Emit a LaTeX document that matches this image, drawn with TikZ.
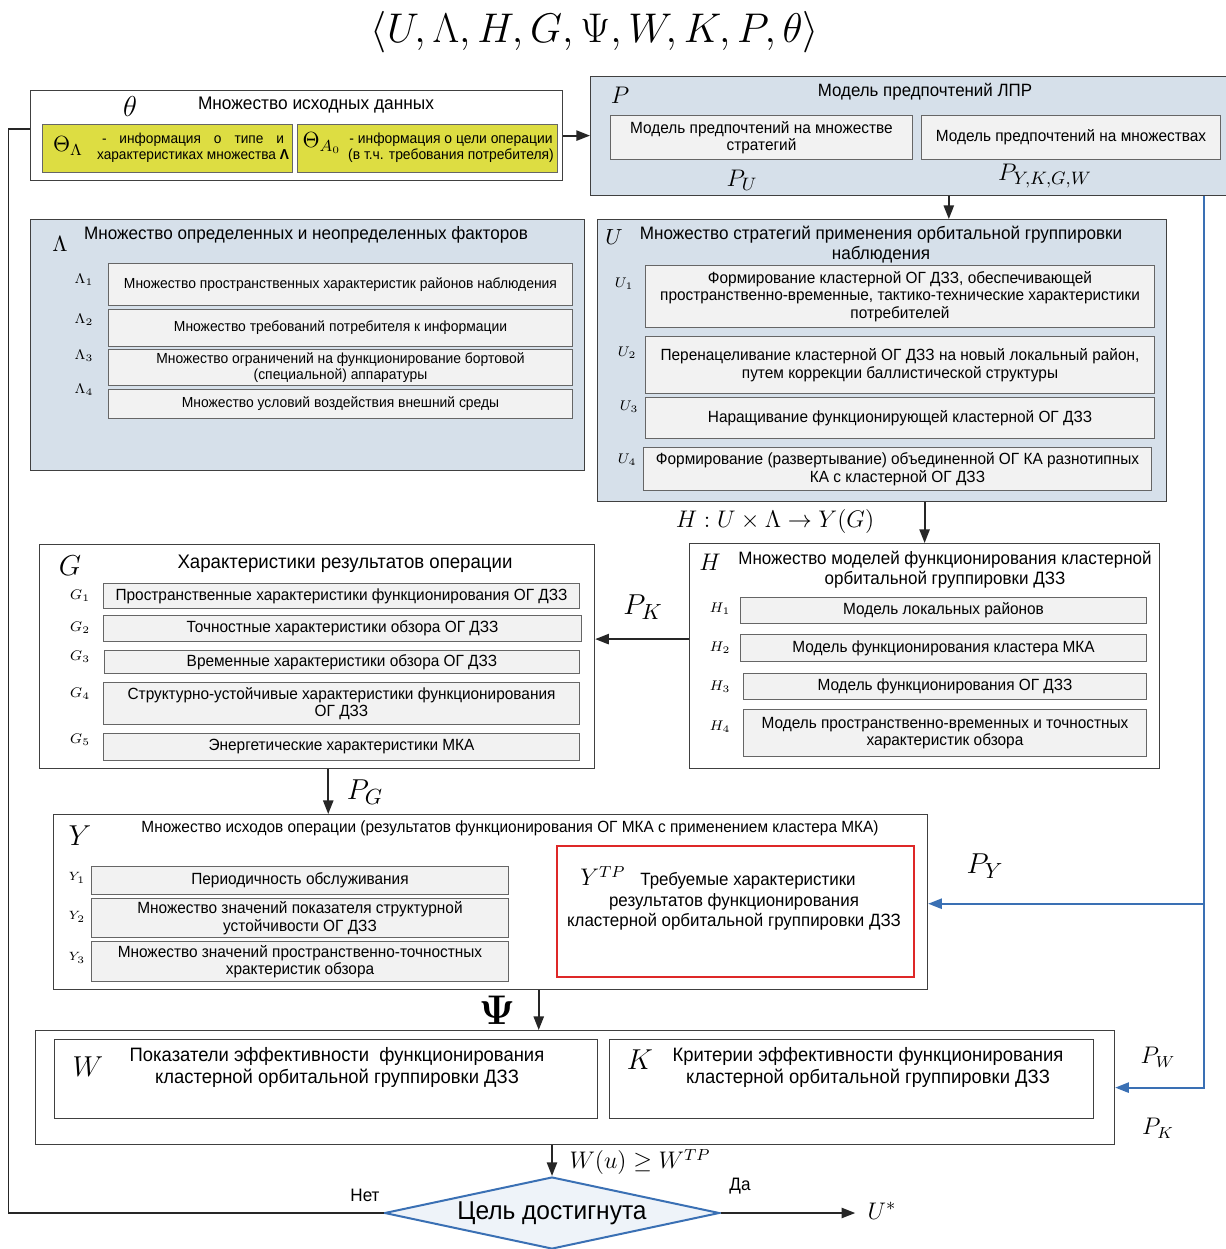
\documentclass[tikz,border=0pt]{standalone}
\usepackage[no-math]{fontspec}
\setmainfont{Liberation Sans}[FakeStretch=0.95]
\usepackage{tikz}
\usetikzlibrary{positioning,arrows.meta,calc,shapes.geometric}
\definecolor{setfill}{RGB}{214,224,234}
\definecolor{itemfill}{RGB}{242,242,242}
\definecolor{thetafill}{RGB}{221,221,66}
\definecolor{ytpred}{RGB}{222,40,40}
\definecolor{prefblue}{RGB}{58,112,180}
\definecolor{goalfill}{RGB}{238,243,249}
\tikzset{
  wh/.style 2 args={minimum width=#1*0.5pt, minimum height=#2*0.5pt},
  outer/.style={draw=black!75, line width=0.6pt, fill=white, anchor=north west, inner sep=0pt},
  setbox/.style={outer, fill=setfill},
  itembox/.style={draw=black!60, line width=0.5pt, fill=itemfill, anchor=north west, align=center,
                  inner sep=1pt, font=\fontsize{7.3}{8}\selectfont},
  wideitem/.style={itembox, font=\fontsize{8.1}{8.8}\selectfont},
  thetabox/.style={itembox, fill=thetafill},
  thetatxt/.style={align=center, inner sep=0pt, font=\fontsize{7.3}{8}\selectfont},
  ttl/.style={font=\fontsize{9}{10}\selectfont, align=center, inner sep=0pt},
  sym/.style={font=\fontsize{13}{14}\selectfont, inner sep=0pt},
  sub/.style={font=\fontsize{7.5}{8}\selectfont, inner sep=0pt},
  lbl/.style={font=\fontsize{13}{14}\selectfont, inner sep=0pt},
  flow/.style={-{Triangle[length=2.4mm,width=1.8mm]}, line width=0.9pt, black!85},
  back/.style={line width=0.9pt, black!85},
  prefarrow/.style={-{Triangle[length=2.4mm,width=1.8mm]}, line width=0.9pt, prefblue}
}
\begin{document}
\begin{tikzpicture}[x=0.5pt,y=-0.5pt]
\useasboundingbox (0,0) rectangle (1226,1249);
\node[font=\fontsize{22}{24}\selectfont] (tuple) at (595,32) {$\left\langle U,\Lambda,H,G,\Psi,W,K,P,\theta\right\rangle$};

% source data
\node[outer, wh={532}{90}] (theta) at (30,90) {};
\node[sym, font=\fontsize{14}{15}\selectfont] (thetaS) at (130,106) {$\theta$};
\node[ttl, font=\fontsize{9.1}{10}\selectfont] (thetaT) at (316,105) {Множество исходных данных};
\node[thetabox, wh={250}{48}] (thL) at (42,124) {};
\node[thetabox, wh={260}{48}] (thA) at (297,124) {};
\node[sym, font=\fontsize{11}{12}\selectfont] (thLS) at (68,146) {$\Theta_\Lambda$};
\node[thetatxt, font=\fontsize{7.2}{8}\selectfont] (thLT) at (193,148) {\makebox[91pt][s]{- информация о типе и}\\характеристиках множества \textbf{Λ}};
\node[sym, font=\fontsize{11}{12}\selectfont] (thAS) at (322,143) {$\Theta_{A_0}$};
\node[thetatxt] (thAT) at (451,148) {- информация о цели операции\\(в т.ч. требования потребителя)};

% decision maker preferences
\node[setbox, wh={640}{119}] (lpr) at (590,76) {};
\node[sym] (lprS) at (620,95) {$P$};
\node[ttl, font=\fontsize{8.9}{10}\selectfont] (lprT) at (925,92) {Модель предпочтений ЛПР};
\node[wideitem, wh={302}{44}] (lprU) at (610,115) {Модель предпочтений на множестве\\стратегий};
\node[wideitem, wh={299}{44}] (lprY) at (921,115) {Модель предпочтений на множествах};
\node[lbl] (lprUl) at (742,180) {$P_U$};
\node[lbl] (lprYl) at (1045,176) {$P_{Y,K,G,W}$};

% factors
\node[setbox, wh={554}{251}] (lam) at (30,219) {};
\node[sym, font=\fontsize{11}{12}\selectfont] (lamS) at (60,244) {$\Lambda$};
\node[ttl] (lamT) at (306,235) {Множество определенных и неопределенных факторов};
\node[itembox, wh={464}{42}] (lam1) at (108,263) {Множество пространственных характеристик районов наблюдения};
\node[itembox, wh={464}{37}] (lam2) at (108,309) {Множество требований потребителя к информации};
\node[itembox, wh={464}{36}] (lam3) at (108,349) {Множество ограничений на функционирование бортовой\\(специальной) аппаратуры};
\node[itembox, wh={464}{29}] (lam4) at (108,389) {Множество условий воздействия внешний среды};
\foreach \i/\y in {1/280,2/320,3/356,4/390}
  \node[sub] (lamS\i) at (84,\y) {$\Lambda_\i$};

% strategies
\node[setbox, wh={569}{282}] (strat) at (597,219) {};
\node[sym, font=\fontsize{11}{12}\selectfont] (stratS) at (614,237) {$U$};
\node[ttl] (stratT) at (881,245) {Множество стратегий применения орбитальной группировки\\наблюдения};
\node[wideitem, wh={509}{62}] (u1) at (645,265) {Формирование кластерной ОГ ДЗЗ, обеспечивающей\\пространственно-временные, тактико-технические характеристики\\потребителей};
\node[wideitem, wh={509}{57}] (u2) at (645,336) {Перенацеливание кластерной ОГ ДЗЗ на новый локальный район,\\путем коррекции баллистической структуры};
\node[wideitem, wh={509}{41}] (u3) at (645,397) {Наращивание функционирующей кластерной ОГ ДЗЗ};
\node[wideitem, wh={508}{43}] (u4) at (643,447) {Формирование (развертывание) объединенной ОГ КА разнотипных\\КА с кластерной ОГ ДЗЗ};
\foreach \i/\x/\y in {1/624/284,2/627/353,3/629/407,4/627/460}
  \node[sub] (uS\i) at (\x,\y) {$U_\i$};

% models
\node[outer, wh={470}{225}] (model) at (689,543) {};
\node[sym] (modelS) at (710,562) {$H$};
\node[ttl, font=\fontsize{8.95}{10.2}\selectfont] (modelT) at (945,570) {Множество моделей функционирования кластерной\\орбитальной группировки ДЗЗ};
\node[wideitem, wh={406}{26}] (h1) at (740,597) {Модель локальных районов};
\node[wideitem, wh={406}{27}] (h2) at (740,634) {Модель функционирования кластера МКА};
\node[wideitem, wh={403}{26}] (h3) at (743,673) {Модель функционирования ОГ ДЗЗ};
\node[wideitem, wh={403}{47}] (h4) at (743,709) {Модель пространственно-временных и точностных\\характеристик обзора};
\foreach \i/\y in {1/609,2/648,3/687,4/727}
  \node[sub] (hS\i) at (720,\y) {$H_\i$};
\node[font=\fontsize{13}{14}\selectfont] (hmap) at (775,521) {$H:U\times\Lambda\rightarrow Y(G)$};

% operation results
\node[outer, wh={555}{224}] (res) at (39,544) {};
\node[sym, font=\fontsize{15}{16}\selectfont] (resS) at (70,566) {$G$};
\node[ttl, font=\fontsize{9.8}{10.5}\selectfont] (resT) at (345,564) {Характеристики результатов операции};
\node[wideitem, wh={476}{25}] (g1) at (103,583) {Пространственные характеристики функционирования ОГ ДЗЗ};
\node[wideitem, wh={478}{26}] (g2) at (103,615) {Точностные характеристики обзора ОГ ДЗЗ};
\node[wideitem, wh={475}{23}] (g3) at (104,650) {Временные характеристики обзора ОГ ДЗЗ};
\node[wideitem, wh={476}{42}] (g4) at (103,682) {Структурно-устойчивые характеристики функционирования\\ОГ ДЗЗ};
\node[wideitem, wh={476}{27}] (g5) at (103,733) {Энергетические характеристики МКА};
\foreach \i/\y in {1/596,2/628,3/657,4/694,5/740}
  \node[sub] (gS\i) at (80,\y) {$G_\i$};

% outcomes
\node[outer, wh={874}{175}] (out) at (53,814) {};
\node[sym, font=\fontsize{15}{16}\selectfont] (outS) at (80,836) {$Y$};
\node[ttl, font=\fontsize{8.1}{9}\selectfont] (outT) at (510,828) {Множество исходов операции (результатов функционирования ОГ МКА с применением кластера МКА)};
\node[wideitem, wh={417}{28}] (y1) at (91,866) {Периодичность обслуживания};
\node[wideitem, wh={417}{39}] (y2) at (91,898) {Множество значений показателя структурной\\устойчивости ОГ ДЗЗ};
\node[wideitem, wh={417}{40}] (y3) at (91,941) {Множество значений пространственно-точностных\\храктеристик обзора};
\foreach \i/\y in {1/878,2/917,3/958}
  \node[sub, font=\fontsize{6.5}{7}\selectfont] (yS\i) at (77,\y) {$Y_\i$};
\node[draw=ytpred, line width=1.2pt, fill=white, anchor=north west, wh={357}{131}] (ytp) at (556,845) {};
\node[sym, font=\fontsize{12}{13}\selectfont] (ytpS) at (603,876) {$Y^{TP}$};
\node[ttl, font=\fontsize{8.9}{10}\selectfont] (ytpT1) at (748,881) {Требуемые характеристики};
\node[ttl, font=\fontsize{8.9}{10}\selectfont] (ytpT2) at (734,912) {результатов функционирования\\кластерной орбитальной группировки ДЗЗ};
\node[font=\fontsize{20}{22}\selectfont, inner sep=0pt] (psi) at (497,1010) {$\mathbf{\Psi}$};

% efficiency
\node[outer, wh={1079}{114}] (wk) at (35,1030) {};
\node[outer, wh={543}{79}] (w) at (54,1039) {};
\node[sym, font=\fontsize{15}{16}\selectfont] (wS) at (88,1067) {$W$};
\node[ttl, font=\fontsize{9.7}{11}\selectfont] (wT) at (337,1067) {Показатели эффективности \ функционирования\\кластерной орбитальной группировки ДЗЗ};
\node[outer, wh={484}{79}] (k) at (609,1039) {};
\node[sym, font=\fontsize{15}{16}\selectfont] (kS) at (640,1060) {$K$};
\node[ttl, font=\fontsize{9.7}{11}\selectfont] (kT) at (868,1067) {Критерии эффективности функционирования\\кластерной орбитальной группировки ДЗЗ};
\node[lbl, font=\fontsize{12}{13}\selectfont] (pW) at (1158,1057) {$P_W$};
\node[lbl, font=\fontsize{12}{13}\selectfont] (pK2) at (1158,1128) {$P_K$};

% goal check
\node[font=\fontsize{12}{13}\selectfont, inner sep=0pt] (crit) at (640,1162) {$W(u)\geq W^{TP}$};
\node[diamond, aspect=4.6, draw=prefblue, line width=1pt, fill=goalfill, minimum width=167.5pt,
      minimum height=36pt, inner sep=0pt, font=\fontsize{12.9}{14}\selectfont] (goal) at (552,1213) {Цель достигнута};
\node[font=\fontsize{9}{10}\selectfont, inner sep=0pt] (no) at (365,1195) {Нет};
\node[font=\fontsize{9}{10}\selectfont, inner sep=0pt] (yes) at (740,1186) {Да};
\node[lbl] (ustar) at (882,1211) {$U^*$};

% labels on connectors
\node[lbl, font=\fontsize{15}{16}\selectfont] (pK) at (643,607) {$P_K$};
\node[lbl, font=\fontsize{15}{16}\selectfont] (pG) at (365,792) {$P_G$};
\node[lbl, font=\fontsize{15}{16}\selectfont] (pY) at (985,866) {$P_Y$};

% connectors
\draw[flow] (theta.east) -- (theta.east -| lpr.west);
\coordinate (pu) at ($(strat.north west)!0.617!(strat.north east)$);
\draw[flow] (pu |- lpr.south) -- (pu);
\draw[flow] (model.north |- strat.south) -- (model.north);
\coordinate (hg) at ([yshift=8.5pt]model.west);
\draw[flow] (hg) -- (hg -| res.east);
\coordinate (gy) at ($(res.south west)!0.52!(res.south east)$);
\draw[flow] (gy) -- (gy |- out.north);
\coordinate (yw) at ($(out.south west)!0.555!(out.south east)$);
\draw[flow] (yw) -- (yw |- wk.north);
\draw[flow] (goal.north |- wk.south) -- (goal.north);
\draw[flow, shorten >=6pt] (goal.east) -- (goal.east -| ustar.west);
\coordinate (fbin) at ([yshift=3.5pt]theta.west);
\draw[back] (goal.west) -- ++(-375,0) |- (fbin);
\coordinate (btop) at ([xshift=-13.5pt]lpr.south east);
\draw[prefarrow] (btop) |- (wk.east);
\coordinate (ytpin) at ([yshift=4pt]ytp.east);
\draw[prefarrow] (ytpin -| btop) -- (ytpin -| out.east);
\end{tikzpicture}
\end{document}
